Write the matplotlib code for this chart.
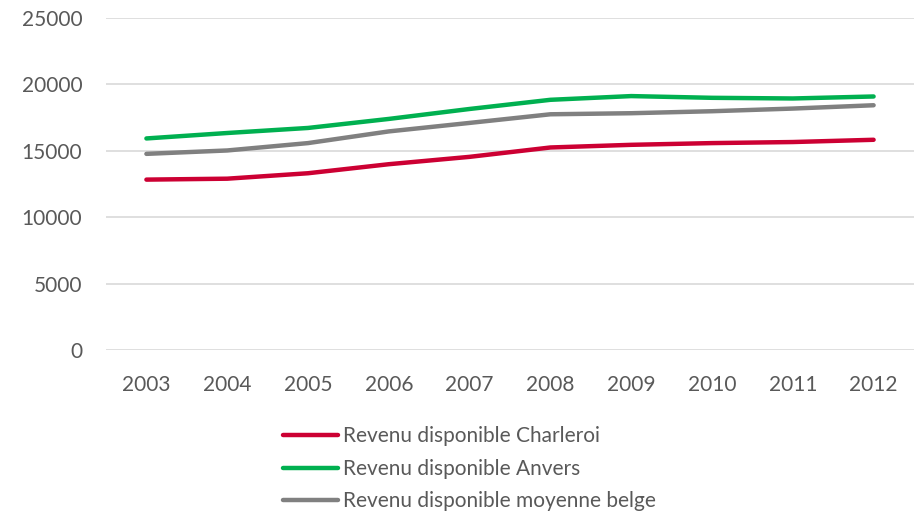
import matplotlib
matplotlib.use('Agg')
import matplotlib.pyplot as plt

years = [2003, 2004, 2005, 2006, 2007, 2008, 2009, 2010, 2011, 2012]
charleroi = [12830, 12900, 13310, 13990, 14545, 15250, 15450, 15580, 15660, 15830]
anvers = [15930, 16340, 16720, 17400, 18150, 18840, 19120, 18990, 18940, 19090]
belge = [14770, 15025, 15580, 16460, 17100, 17750, 17830, 17980, 18180, 18430]

labels = ['Revenu disponible Charleroi', 'Revenu disponible Anvers',
          'Revenu disponible moyenne belge']
colors = ['#CC0033', '#00B050', '#808080']
yticks = [0, 5000, 10000, 15000, 20000, 25000]

plt.rcParams['font.family'] = ['Lato', 'DejaVu Sans']
text_col = '#595959'

fig = plt.figure(figsize=(9.14, 5.12), dpi=100)
ax = fig.add_axes([106 / 914, 1 - 350 / 512, 808 / 914, 332 / 512])

for vals, lab, col in zip([charleroi, anvers, belge], labels, colors):
    ax.plot(years, vals, color=col, lw=3.2, label=lab, solid_capstyle='round')

ax.set_xlim(2002.5, 2012.5)
ax.set_ylim(0, 25000)
ax.set_yticks(yticks)
ax.set_xticks(years)
ax.grid(axis='y', color='#D9D9D9', lw=1.2)
ax.set_axisbelow(True)
for s in ax.spines.values():
    s.set_visible(False)
ax.tick_params(length=0, labelsize=15, colors=text_col)
ax.tick_params(axis='y', pad=17)
ax.tick_params(axis='x', pad=18)

leg = fig.legend(loc='upper left', bbox_to_anchor=(275 / 914, 1 - 418 / 512),
                 frameon=False, fontsize=15, handlelength=2.6,
                 handletextpad=0.25, labelspacing=0.6, borderaxespad=0)
for t in leg.get_texts():
    t.set_color(text_col)

fig.savefig('out.png', dpi=100)
